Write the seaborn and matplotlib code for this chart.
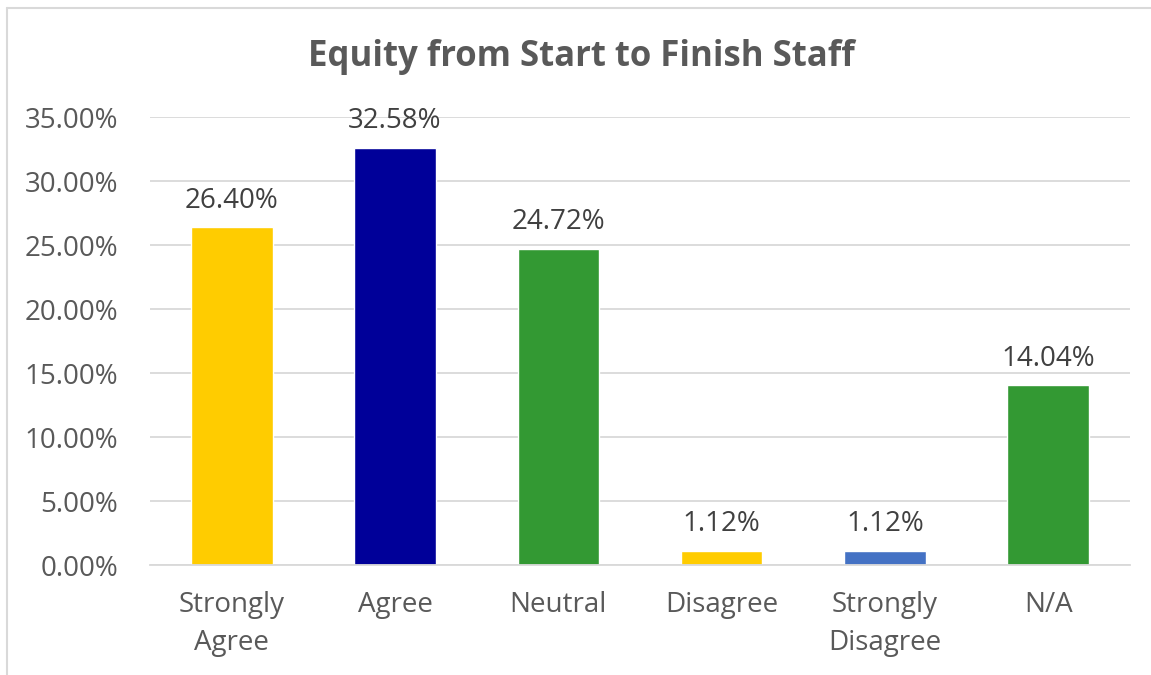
import matplotlib
matplotlib.use("Agg")
import matplotlib.pyplot as plt
import seaborn as sns
import pandas as pd
from matplotlib.ticker import FuncFormatter, MultipleLocator
from matplotlib.lines import Line2D

# Survey responses
categories = ["Strongly\nAgree", "Agree", "Neutral", "Disagree", "Strongly\nDisagree", "N/A"]
percentages = [26.40, 32.58, 24.72, 1.12, 1.12, 14.04]
bar_colors = ["#FFCC00", "#000099", "#339933", "#FFCC00", "#4472C4", "#339933"]

data = pd.DataFrame({"Response": categories, "Percent": percentages})

sns.set_style("white")
plt.rcParams["font.family"] = ["Open Sans", "DejaVu Sans"]

fig = plt.figure(figsize=(11.51, 6.75), dpi=100)
ax = fig.add_axes([150 / 1151, 1 - 565 / 675, 980 / 1151, (565 - 117) / 675])

sns.barplot(x="Response", y="Percent", hue="Response", data=data,
            palette=bar_colors, width=0.5, legend=False, ax=ax, saturation=1)

ax.set_ylim(0, 35)
ax.set_xlim(-0.5, len(categories) - 0.5)
ax.yaxis.set_major_locator(MultipleLocator(5))
ax.yaxis.set_major_formatter(FuncFormatter(lambda v, p: f"{v:.2f}%"))
ax.grid(axis="y", color="#D9D9D9", linewidth=1.3)
ax.set_axisbelow(True)
for s in ["top", "right", "left"]:
    ax.spines[s].set_visible(False)
ax.spines["bottom"].set_color("#D9D9D9")
ax.spines["bottom"].set_linewidth(1.3)

ax.tick_params(axis="both", length=0, labelsize=20, colors="#595959")
ax.tick_params(axis="y", pad=23)
ax.tick_params(axis="x", pad=19)
for lbl in ax.get_xticklabels():
    lbl.set_linespacing(1.45)
ax.set_xlabel("")
ax.set_ylabel("")

for i, v in enumerate(percentages):
    ax.annotate(f"{v:.2f}%", (i, v), xytext=(0, 9), textcoords="offset points",
                ha="center", va="bottom", fontsize=20, color="#404040")

fig.text(0.505, 1 - 57 / 675, "Equity from Start to Finish Staff", ha="center",
         va="center", fontsize=25, fontweight="bold", color="#595959")

# chart frame (top and left edges visible)
fig.add_artist(Line2D([7 / 1151, 1.0], [1 - 8 / 675] * 2, color="#D9D9D9", lw=1.5))
fig.add_artist(Line2D([7 / 1151] * 2, [0, 1 - 8 / 675], color="#D9D9D9", lw=1.5))

fig.savefig("out.png", dpi=100)
